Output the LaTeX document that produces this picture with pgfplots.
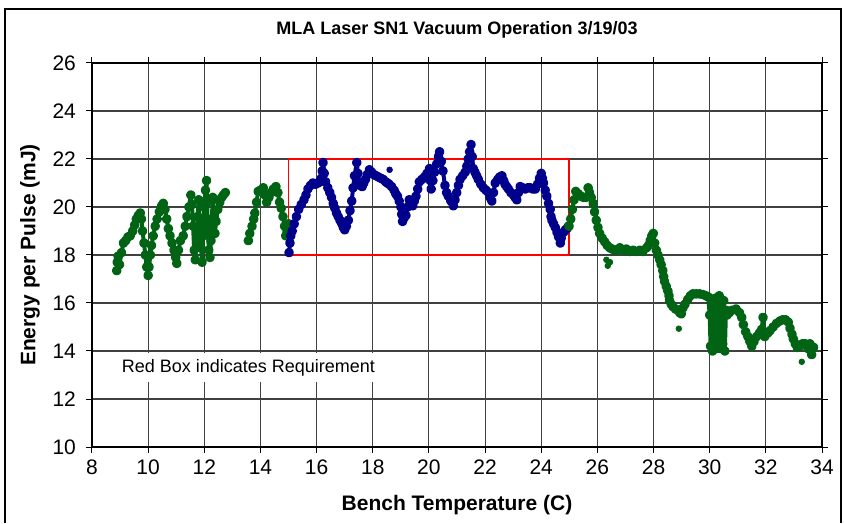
\documentclass[border=0pt]{standalone}
\usepackage{fontspec}
\setmainfont{Liberation Sans}
\usepackage{pgfplots}
\pgfplotsset{compat=1.18}
\usetikzlibrary{calc}
\definecolor{dgreen}{RGB}{0,100,20}
\definecolor{dblue}{RGB}{0,0,140}

\begin{document}
\begin{tikzpicture}
\begin{axis}[
  scale only axis, width=365pt, height=192pt,
  xmin=8, xmax=34, ymin=10, ymax=26,
  xtick={8,10,...,34}, ytick={10,12,...,26},
  grid=major, major grid style={black!75, line width=0.55pt},
  axis line style={black, line width=0.6pt},
  tick align=outside, major tick length=3pt, tick style={black, line width=0.5pt},
  ticklabel style={font=\fontsize{10.5}{12}\selectfont},
  yticklabel style={xshift=-1.5pt},
  /pgf/number format/assume math mode=true,
  xlabel={Bench Temperature (C)}, ylabel={Energy per Pulse (mJ)},
  label style={font=\fontsize{10.5}{12}\selectfont\bfseries},
  xlabel style={at={(axis description cs:0.5,-0.151)}, anchor=center},
  ylabel style={at={(axis description cs:-0.085,0.5)}, anchor=center},
  clip=false,
  every axis plot/.append style={line join=round, line cap=round},
]
% requirement box
\addplot[red, line width=0.9pt, mark=none] coordinates {(15,18) (25,18) (25,22) (15,22) (15,18)};

% early warm-up, green
\addplot[dgreen, line width=2pt, mark=*, mark size=1.4pt] coordinates {
(8.88,17.35) (8.9,17.7) (8.93,17.95) (8.98,17.6) (9.05,18.1) (9.12,18.5) (9.2,18.6) (9.28,18.75)
(9.36,18.8) (9.45,19.0) (9.52,19.25) (9.58,19.5) (9.65,19.65) (9.72,19.75) (9.76,19.5) (9.8,19.0)
(9.85,18.5) (9.9,18.0) (9.95,17.5) (10.0,17.15) (10.03,17.5) (10.08,18.0) (10.12,18.4) (10.18,18.8)
(10.25,19.2) (10.32,19.5) (10.4,19.8) (10.48,20.05) (10.54,20.15) (10.6,19.9) (10.66,19.5) (10.72,19.1)
(10.78,18.8) (10.85,18.5) (10.92,18.2) (10.98,17.9) (11.02,17.65) (11.08,18.2) (11.15,18.6) (11.25,18.8)
(11.32,19.2) (11.38,19.6) (11.45,20.0) (11.52,20.5) (11.56,20.1) (11.6,19.2) (11.64,18.2) (11.68,17.8)
(11.72,18.5) (11.76,19.6) (11.8,20.3) (11.84,19.5) (11.88,18.3) (11.92,17.7) (11.96,18.8) (12.0,20.0)
(12.04,20.7) (12.08,21.1) (12.1,20.2) (12.13,19.0) (12.16,18.2) (12.2,17.9) (12.24,18.6) (12.27,19.5)
(12.3,20.4) (12.34,19.6) (12.38,18.9) (12.42,19.4) (12.48,19.9) (12.55,20.2) (12.62,20.4) (12.68,20.5)
(12.75,20.6)
};
\addplot[dgreen, line width=2pt, mark=*, mark size=1.4pt] coordinates {
(13.57,18.6) (13.62,18.9) (13.7,19.2) (13.76,19.5) (13.8,19.75) (13.86,20.2) (13.92,20.65) (14.0,20.7)
(14.1,20.8) (14.16,20.5) (14.22,20.2) (14.3,20.4) (14.38,20.6) (14.46,20.75) (14.55,20.85) (14.62,20.6)
(14.68,20.2) (14.74,19.95) (14.8,19.6) (14.86,19.2) (14.9,18.8) (14.95,19.0) (15.0,19.3)
};

% inside requirement, blue
\addplot[dblue, line width=2pt, mark=*, mark size=1.4pt] coordinates {
(15.02,18.1) (15.05,18.5) (15.08,18.8) (15.13,19.0) (15.2,19.3) (15.28,19.6) (15.36,19.9) (15.45,20.1)
(15.55,20.3) (15.62,20.5) (15.69,20.75) (15.78,20.9) (15.87,21.0) (15.96,20.95) (16.05,21.0) (16.12,21.05)
(16.17,21.2) (16.2,21.5) (16.23,21.85) (16.27,21.4) (16.32,21.05) (16.4,20.8) (16.47,20.6) (16.53,20.4)
(16.59,20.15) (16.65,19.95) (16.71,19.75) (16.77,19.6) (16.83,19.45) (16.9,19.3) (16.95,19.15) (17.0,19.05)
(17.06,19.2) (17.13,19.45) (17.19,19.85) (17.25,20.25) (17.3,20.8) (17.35,21.3) (17.43,21.85) (17.47,21.4)
(17.5,21.05) (17.56,20.9) (17.62,20.85) (17.68,21.0) (17.74,21.15) (17.8,21.35) (17.88,21.55) (17.96,21.45)
(18.04,21.35) (18.12,21.3) (18.2,21.25) (18.28,21.2) (18.37,21.15) (18.46,21.05) (18.52,21.0) (18.58,20.95)
(18.67,20.85) (18.76,20.7) (18.82,20.55) (18.88,20.45) (18.94,20.25) (19.0,20.0) (19.03,19.7) (19.06,19.4)
(19.12,19.55) (19.18,19.65) (19.24,20.0) (19.3,20.3) (19.36,20.15) (19.42,20.05) (19.48,20.25) (19.54,20.45)
(19.6,20.75) (19.66,21.05) (19.75,21.15) (19.84,21.25) (19.93,21.4) (20.02,21.6) (20.05,21.1) (20.08,20.75)
(20.14,21.1) (20.2,21.45) (20.28,21.8) (20.34,22.1) (20.38,22.3) (20.44,21.9) (20.5,21.5) (20.57,20.9)
(20.63,20.6) (20.69,20.45) (20.78,20.25) (20.87,20.05) (20.93,20.3) (20.99,20.6) (21.05,20.9) (21.11,21.15)
(21.2,21.3) (21.29,21.45) (21.35,21.7) (21.4,22.0) (21.45,22.3) (21.5,22.6) (21.54,22.1) (21.58,21.6)
(21.64,21.45) (21.7,21.3) (21.76,21.15) (21.85,20.95) (21.94,20.8) (22.03,20.7) (22.12,20.6) (22.18,20.4)
(22.24,20.25) (22.3,20.6) (22.36,21.0) (22.45,21.15) (22.52,21.25) (22.6,21.3) (22.66,21.1) (22.71,20.95)
(22.77,20.85) (22.83,20.75) (22.92,20.6) (23.01,20.5) (23.07,20.4) (23.13,20.3) (23.19,20.6) (23.25,20.85)
(23.34,20.8) (23.43,20.75) (23.52,20.8) (23.61,20.8) (23.7,20.75) (23.79,20.75) (23.87,20.95) (23.94,21.2)
(24.0,21.4) (24.04,21.2) (24.08,21.0) (24.14,20.7) (24.2,20.45) (24.26,20.15) (24.32,19.9) (24.35,19.6)
(24.38,19.45) (24.44,19.3) (24.5,19.15) (24.56,18.95) (24.62,18.75) (24.68,18.5) (24.71,18.7) (24.74,18.9)
(24.8,18.95) (24.86,19.05) (24.92,19.1) (24.97,19.2)
};
\addplot[dblue, only marks, mark=*, mark size=1.4pt] coordinates {(18.6,21.55)};

% above requirement range, green
\addplot[dgreen, line width=2pt, mark=*, mark size=1.4pt] coordinates {
(24.99,19.2) (25.05,19.5) (25.11,19.9) (25.17,20.3) (25.23,20.65) (25.32,20.55) (25.41,20.45) (25.5,20.4)
(25.59,20.4) (25.67,20.8) (25.72,20.6) (25.78,20.4) (25.85,20.15) (25.9,19.8) (25.96,19.45) (26.02,19.15)
(26.08,18.9) (26.17,18.7) (26.26,18.55) (26.35,18.4) (26.44,18.3) (26.52,18.25) (26.6,18.22) (26.68,18.2)
(26.8,18.3) (26.92,18.2) (27.03,18.25) (27.15,18.15) (27.27,18.2) (27.39,18.15) (27.51,18.2) (27.62,18.15)
(27.75,18.3) (27.82,18.4) (27.88,18.6) (27.94,18.8) (27.99,18.9) (28.04,18.5) (28.1,18.2) (28.16,18.0)
(28.22,17.8) (28.27,17.6) (28.33,17.35) (28.36,17.1) (28.39,16.9) (28.45,16.7) (28.51,16.5) (28.55,16.3)
(28.57,16.1) (28.63,15.95) (28.69,15.85) (28.78,15.75) (28.87,15.7) (28.93,15.6) (28.99,15.55) (29.05,15.8)
(29.12,15.95) (29.22,16.15) (29.31,16.3) (29.4,16.38) (29.52,16.38) (29.64,16.38) (29.76,16.35) (29.87,16.3)
(29.95,16.25) (30.0,15.5) (30.03,14.2) (30.06,16.0) (30.1,14.0) (30.13,15.8) (30.16,14.3) (30.2,16.2)
(30.23,14.1) (30.27,15.9) (30.3,14.3) (30.34,16.3) (30.38,14.1) (30.42,15.8) (30.46,14.3) (30.5,16.1)
(30.54,14.0) (30.58,15.7) (30.62,15.5) (30.7,15.6) (30.8,15.7) (30.94,15.75) (31.06,15.6) (31.14,15.4)
(31.2,15.1) (31.28,14.8) (31.36,14.6) (31.43,14.4) (31.5,14.2) (31.58,14.4) (31.67,14.6) (31.77,14.75)
(31.85,14.9) (31.9,15.4) (31.96,14.6) (32.07,14.75) (32.15,14.85) (32.26,15.0) (32.38,15.15) (32.5,15.25)
(32.6,15.3) (32.7,15.3) (32.8,15.2) (32.86,14.95) (32.93,14.7) (32.98,14.5) (33.05,14.3) (33.12,14.15)
(33.2,14.2) (33.3,14.3) (33.4,14.3) (33.5,14.1) (33.57,14.3) (33.63,13.85) (33.7,14.15)
};
\addplot[dgreen, only marks, mark=*, mark size=1.4pt] coordinates {
(28.9,14.93) (33.28,13.55) (26.32,17.8) (26.37,17.55) (26.45,17.7)
};

\node[fill=white, inner sep=3pt, font=\fontsize{9}{11}\selectfont] at (axis cs:13.57,13.3) {Red Box indicates Requirement};
\node[font=\fontsize{9}{11}\selectfont\bfseries] at (rel axis cs:0.5,1.086) {MLA Laser SN1 Vacuum Operation 3/19/03};

\coordinate (A) at (rel axis cs:0,0);
\coordinate (B) at (rel axis cs:1,1);
\end{axis}
\pgfresetboundingbox
\path ($(A)+(-46pt,-38pt)$) rectangle ($(B)+(11pt,31.5pt)$);
\draw[black, line width=0.6pt] ($(A)+(-43.5pt,-38pt)$) -- ($(A |- B)+(-43.5pt,27pt)$) -- ($(B)+(9.5pt,27pt)$) -- ($(B |- A)+(9.5pt,-38pt)$);
\end{tikzpicture}
\end{document}
